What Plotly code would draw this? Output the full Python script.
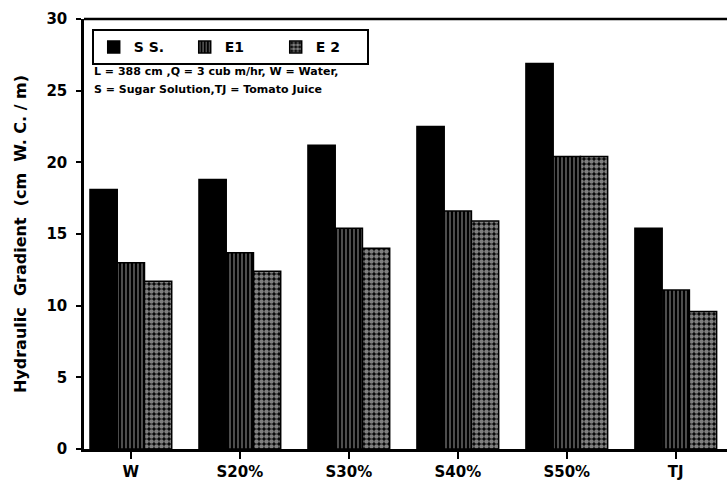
import plotly.graph_objects as go

categories = ["W", "S20%", "S30%", "S40%", "S50%", "TJ"]
ss_values = [18.1, 18.8, 21.2, 22.5, 26.9, 15.4]
e1_values = [13.0, 13.7, 15.4, 16.6, 20.4, 11.1]
e2_values = [11.7, 12.4, 14.0, 15.9, 20.4, 9.6]
y_ticks = [0, 5, 10, 15, 20, 25, 30]

FONT = "DejaVu Sans"
x_pos = list(range(len(categories)))

fig = go.Figure()
fig.add_trace(go.Bar(
    name="S S.", x=x_pos, y=ss_values,
    marker=dict(color="black", line=dict(color="black", width=1.5)),
))
fig.add_trace(go.Bar(
    name="E1", x=x_pos, y=e1_values,
    marker=dict(color="black", line=dict(color="black", width=1.5),
                pattern=dict(shape="|", fgcolor="white", bgcolor="black",
                             size=4, solidity=0.3)),
))
fig.add_trace(go.Bar(
    name="E 2", x=x_pos, y=e2_values,
    marker=dict(color="black", line=dict(color="black", width=1.5),
                pattern=dict(shape=".", fgcolor="white", bgcolor="black",
                             size=5, solidity=0.65)),
))

fig.update_layout(
    width=727, height=487,
    margin=dict(l=84, r=0, t=19, b=38),
    paper_bgcolor="white", plot_bgcolor="white",
    barmode="group", bargap=0.25, bargroupgap=0,
    font=dict(family=FONT, color="black", size=15),
    showlegend=True,
    legend=dict(
        orientation="h", x=0.012, y=0.976, xanchor="left", yanchor="top",
        bordercolor="black", borderwidth=2, bgcolor="white",
        font=dict(family=FONT, size=14, color="black", weight="bold"),
        entrywidth=46, tracegroupgap=0,
    ),
    xaxis=dict(
        range=[-0.43, 5.47], tickmode="array", tickvals=x_pos, ticktext=categories,
        showline=True, linecolor="black", linewidth=2.5,
        ticks="outside", ticklen=7, tickwidth=2, tickcolor="black",
        showgrid=False, zeroline=False,
        tickfont=dict(family=FONT, size=15, color="black", weight="bold"),
    ),
    yaxis=dict(
        range=[0, 30], tickvals=y_ticks,
        showline=True, linecolor="black", linewidth=2.5,
        ticks="outside", ticklen=5, tickwidth=2, tickcolor="black",
        showgrid=False, zeroline=False,
        tickfont=dict(family=FONT, size=15, color="black", weight="bold"),
        ticklabelstandoff=6,
        title=dict(text="Hydraulic  Gradient  (cm  W. C. / m)", standoff=16,
                   font=dict(family=FONT, size=16, color="black", weight="bold")),
    ),
)

# top frame line
fig.add_shape(type="line", xref="paper", yref="paper", x0=0, x1=1, y0=1, y1=1,
              line=dict(color="black", width=2.5))

fig.add_annotation(xref="paper", yref="paper", x=0.012, y=0.879,
                   xanchor="left", yanchor="middle", showarrow=False,
                   text="L = 388 cm ,Q = 3 cub m/hr, W = Water,",
                   font=dict(family=FONT, size=11, color="black", weight="bold"))
fig.add_annotation(xref="paper", yref="paper", x=0.012, y=0.835,
                   xanchor="left", yanchor="middle", showarrow=False,
                   text="S = Sugar Solution,TJ = Tomato Juice",
                   font=dict(family=FONT, size=11, color="black", weight="bold"))

fig.write_html(
    "out.html",
    config={"displayModeBar": False},
    post_script="document.body.style.margin='0';document.body.style.overflow='hidden';",
)
